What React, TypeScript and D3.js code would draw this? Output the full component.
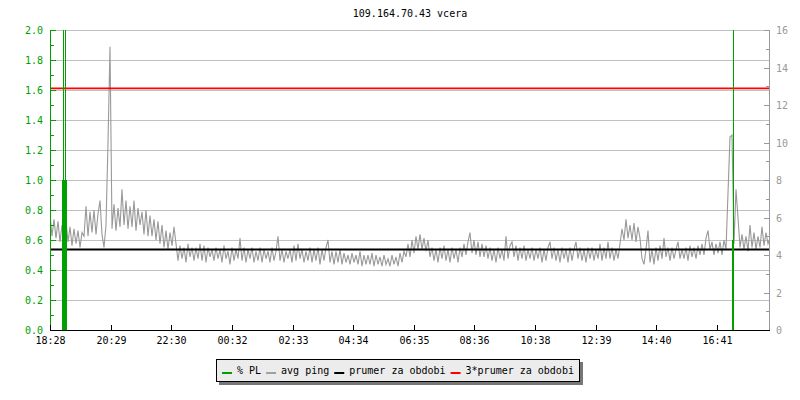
import React from 'react';
import * as d3 from 'd3';

const TITLE = '109.164.70.43 vcera';
const START_LABEL = '18:28';
const SPAN_MIN = 1440;
const SAMPLE_MIN = 4;
const TICK_LABELS = ['18:28', '20:29', '22:30', '00:32', '02:33', '04:34', '06:35', '08:36', '10:38', '12:39', '14:40', '16:41'];

// avg ping in ms, one sample every 4 minutes
const PING_MS = [
  6.2, 5.0, 5.9, 4.9, 5.8, 4.7,
  5.6, 5.0, 5.8,
  4.7, 5.5, 4.5, 5.4, 4.6, 5.3, 4.4, 5.2,
  5.0, 6.6, 5.0, 6.3, 5.2, 6.4, 5.1, 6.2,
  6.9, 5.1, 4.4, 5.6, 10.0, 15.1,
  5.4, 6.7, 5.3, 6.5, 5.5, 7.5, 5.6, 6.9, 5.4, 6.6, 5.5, 6.9, 5.3, 6.5,
  5.6, 6.3, 5.1, 6.4, 5.0, 6.1, 5.0, 5.9, 4.8, 5.8,
  4.6, 5.6, 4.4, 5.3, 4.3, 5.2, 4.5, 5.5,
  4.6, 3.7, 4.5, 3.8, 4.4, 3.6, 4.6, 3.9, 4.4, 3.7,
  4.4, 3.8, 4.6, 3.7, 4.5, 3.6, 4.4, 3.9, 4.3, 3.7,
  4.4, 3.8, 4.3, 3.6, 4.5, 3.8, 4.2, 3.5, 4.4, 3.7,
  4.3, 3.8, 4.9, 3.7, 4.4, 3.6, 4.3, 3.8, 4.4, 3.6,
  4.2, 3.7, 4.4, 3.6, 4.3, 3.8, 4.2, 3.6, 4.4, 3.7,
  4.2, 5.0, 3.7, 4.3, 3.6, 4.2, 3.8,
  4.3, 3.6, 4.5, 3.7, 4.6, 3.8, 4.3, 3.6, 4.2, 3.7,
  4.4, 3.6, 4.3, 3.7, 4.4, 3.5, 4.3, 3.7, 4.4, 4.8,
  3.6, 4.2, 3.5, 4.2, 3.6, 4.3, 3.5, 4.1, 3.6, 4.0,
  3.5, 4.1, 3.6, 4.0, 3.5, 4.2, 3.4, 4.0, 3.5, 4.0,
  3.5, 4.1, 3.4, 4.0, 3.5, 3.9, 3.4, 4.0, 3.5, 3.8,
  3.4, 4.0, 3.5, 3.9, 3.4, 4.1, 3.6, 4.2,
  3.9, 4.6, 3.9, 4.8, 4.1, 5.0, 4.3, 5.1, 4.3, 4.9, 4.2, 4.8, 3.9,
  4.4, 3.7, 4.3, 3.6, 4.4, 3.8, 4.5, 3.7, 4.3, 3.6, 4.4, 3.8, 4.3, 3.6, 4.4,
  3.9, 4.6, 4.0, 4.7, 5.2, 4.1, 4.8, 4.0, 4.7, 3.9, 4.6, 3.9, 4.5, 3.8, 4.4,
  3.7, 4.3, 3.6, 4.4, 3.8, 4.3, 3.7, 5.0, 3.8, 4.5, 4.7, 3.9, 4.5, 3.7, 4.4, 3.8, 4.5, 3.7, 4.3, 3.8,
  4.4, 3.7, 4.3, 3.8, 4.4, 3.6, 4.3, 3.7, 4.4, 4.7,
  3.8, 4.4, 3.7, 4.3, 3.6, 4.4, 3.8, 4.3, 3.6, 4.4,
  3.7, 4.3, 4.7, 3.8, 4.4, 3.7, 4.3, 3.6, 4.4, 3.8,
  4.4, 3.7, 4.3, 3.8, 4.6, 3.7, 4.4, 3.8, 4.7, 3.8,
  4.4, 3.7, 4.3, 3.8, 4.6,
  5.4, 4.8, 5.9, 4.9, 5.6, 4.8, 5.7, 4.7, 5.5, 4.9,
  3.8, 3.5, 4.3, 5.3, 3.6, 4.3, 3.5, 4.4, 3.7, 4.5, 3.8, 4.9, 3.9, 4.4, 3.7, 4.4, 3.8, 4.3, 4.7, 3.8,
  4.3, 3.8, 4.4, 3.7, 4.5, 3.9, 4.4, 3.8, 4.5, 4.0, 4.6, 4.0, 4.9, 5.3, 4.3,
  4.7, 4.0, 4.6, 4.1, 4.7, 4.0, 4.8, 4.3,
  7.3, 10.3, 10.4, 4.6, 7.5, 6.0,
  4.4, 5.1, 4.3, 5.0, 4.2, 5.6, 4.4, 5.2, 4.3, 5.0, 4.4, 5.5, 4.5, 5.2, 4.6,
  4.9,
];

// packet loss events (minutes from start, % PL)
const PL_MIN = [24, 26, 28, 30, 32, 1364, 1366];
const PL_PCT = [1.0, 5.0, 1.0, 5.0, 1.0, 0.6, 5.0];

const AVG_MS = 4.29;
const LEFT_TICK_LABELS = ['0.0', '0.2', '0.4', '0.6', '0.8', '1.0', '1.2', '1.4', '1.6', '1.8', '2.0'];
const RIGHT_TICK_LABELS = ['0', '2', '4', '6', '8', '10', '12', '14', '16'];

const LEGEND = [
  { label: '% PL', color: '#00a000' },
  { label: 'avg ping', color: '#a0a0a0' },
  { label: 'prumer za obdobi', color: '#000000' },
  { label: '3*prumer za obdobi', color: '#ff0000' },
];

const FONT = '"DejaVu Sans Mono", monospace';
const GREEN = '#00a000';
const GRAY = '#999999';

const toMin = (s: string) => {
  const [h, m] = s.split(':').map(Number);
  return h * 60 + m;
};

export default function App() {
  const L = 50, R = 770, T = 30, B = 330;
  const x = d3.scaleLinear().domain([0, SPAN_MIN]).range([L, R]);
  const yL = d3.scaleLinear().domain([0, 2]).range([B, T]);
  const yR = d3.scaleLinear().domain([0, 16]).range([B, T]);
  const startMin = toMin(START_LABEL);
  const axisR = R - 0.5;

  const pingLine = d3
    .line<number>()
    .x((_, i) => x(i * SAMPLE_MIN))
    .y((d) => yR(d))
    .curve(d3.curveLinear);

  const leftVals = LEFT_TICK_LABELS.map(Number);
  const leftMinor = d3.range(0, 21).map((k) => k / 10);
  const rightVals = RIGHT_TICK_LABELS.map(Number);
  const rightMinor = d3.range(0, 17);
  const crisp = (v: number) => Math.round(v) + 0.5;

  const cw = 6.02;
  let lx = 222;
  const legendItems = LEGEND.map((it) => {
    const item = { ...it, x: lx };
    lx += 15 + it.label.length * cw + 5;
    return item;
  });

  return (
    <svg
      width={800}
      height={400}
      style={{ position: 'fixed', left: 0, top: 0, background: '#fff' }}
      fontFamily={FONT}
      fontSize={10}
    >
      <rect x={0} y={0} width={800} height={400} fill="#fff" />
      <defs>
        <clipPath id="plot">
          <rect x={L} y={T} width={R - L} height={B - T} />
        </clipPath>
      </defs>
      <text x={(L + R) / 2} y={17} textAnchor="middle" fill="#000">
        {TITLE}
      </text>

      {/* grid */}
      {leftVals
        .filter((v) => v > 0)
        .map((v) => (
          <line key={'g' + v} x1={L} x2={axisR} y1={crisp(yL(v))} y2={crisp(yL(v))} stroke="#c0c0c0" strokeWidth={1} shapeRendering="crispEdges" />
        ))}

      <g clipPath="url(#plot)">
        <path d={pingLine(PING_MS) || ''} fill="none" stroke={GRAY} strokeWidth={1.1} strokeLinejoin="miter" />
        <line x1={L} x2={axisR} y1={yR(AVG_MS)} y2={yR(AVG_MS)} stroke="#000" strokeWidth={2} />
        <line x1={L} x2={axisR} y1={yR(AVG_MS * 3) - 0.3} y2={yR(AVG_MS * 3) - 0.3} stroke="#ff0000" strokeWidth={1.6} />
        {PL_MIN.map((m, i) => (
          <rect key={'pl' + i} x={Math.round(x(m))} width={1} y={yL(PL_PCT[i])} height={B - yL(PL_PCT[i])} fill={GREEN} shapeRendering="crispEdges" />
        ))}
      </g>

      {/* left axis */}
      <line x1={L + 0.5} x2={L + 0.5} y1={T} y2={B} stroke={GREEN} shapeRendering="crispEdges" />
      {leftMinor.map((v) => (
        <line key={'lm' + v} x1={L} x2={L + 4} y1={crisp(yL(v))} y2={crisp(yL(v))} stroke={GREEN} shapeRendering="crispEdges" />
      ))}
      {leftVals.map((v, i) => (
        <g key={'lt' + v}>
          <line x1={L} x2={L + 6} y1={crisp(yL(v))} y2={crisp(yL(v))} stroke={GREEN} shapeRendering="crispEdges" />
          <text x={43} y={yL(v) + 4} textAnchor="end" fill={GREEN}>
            {LEFT_TICK_LABELS[i]}
          </text>
        </g>
      ))}

      {/* right axis */}
      <line x1={axisR} x2={axisR} y1={T} y2={B} stroke={GRAY} shapeRendering="crispEdges" />
      {rightMinor.map((v) => (
        <line key={'rm' + v} x1={axisR - 3.5} x2={axisR} y1={crisp(yR(v))} y2={crisp(yR(v))} stroke={GRAY} shapeRendering="crispEdges" />
      ))}
      {rightVals.map((v, i) => (
        <g key={'rt' + v}>
          <line x1={axisR - 5.5} x2={axisR} y1={crisp(yR(v))} y2={crisp(yR(v))} stroke={GRAY} shapeRendering="crispEdges" />
          <text x={776} y={yR(v) + 4} textAnchor="start" fill={GRAY}>
            {RIGHT_TICK_LABELS[i]}
          </text>
        </g>
      ))}

      {/* bottom axis */}
      <line x1={L} x2={R} y1={B + 0.5} y2={B + 0.5} stroke="#000" shapeRendering="crispEdges" />
      {TICK_LABELS.map((lab) => {
        const m = (toMin(lab) - startMin + 1440) % 1440;
        const tx = crisp(x(m));
        return (
          <g key={'bt' + lab}>
            <line x1={tx} x2={tx} y1={B - 5} y2={B} stroke="#000" shapeRendering="crispEdges" />
            <text x={tx} y={344} textAnchor="middle" fill="#000">
              {lab}
            </text>
          </g>
        );
      })}

      {/* legend */}
      <rect x={219} y={362} width={364} height={23} fill="#777" />
      <rect x={216.5} y={359.5} width={363} height={22} fill="#ececec" stroke="#000" strokeWidth={1} shapeRendering="crispEdges" />
      {legendItems.map((it) => (
        <g key={it.label}>
          <rect x={it.x} y={372} width={10} height={2} fill={it.color} />
          <text x={it.x + 15} y={374} fill="#000">
            {it.label}
          </text>
        </g>
      ))}
    </svg>
  );
}
